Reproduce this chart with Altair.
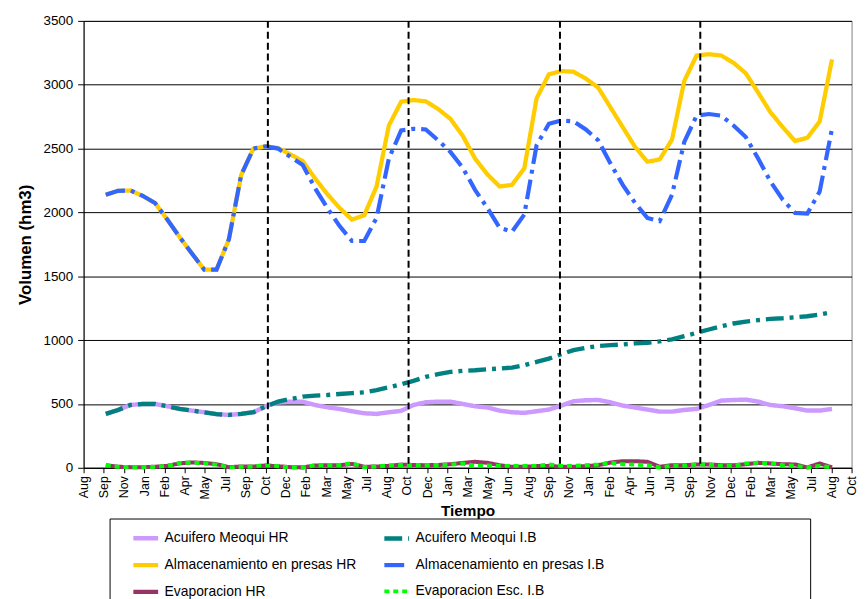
import altair as alt
import pandas as pd

# ---------------- data ----------------
series_names = [
    "Acuifero Meoqui HR",
    "Acuifero Meoqui I.B",
    "Almacenamiento en presas HR",
    "Almacenamiento en presas I.B",
    "Evaporacion HR",
    "Evaporacion Esc. I.B",
]

acu_hr = [422, 453, 492, 500, 500, 482, 461, 448, 435, 420, 414, 422, 435, 482,
          513, 518, 518, 492, 474, 461, 443, 427, 422, 435, 446, 492, 513, 518, 518, 500,
          482, 472, 448, 435, 430, 443, 456, 487, 521, 529, 531, 513, 487, 472, 456,
          440, 440, 453, 461, 492, 526, 531, 534, 518, 492, 482, 466, 448, 448, 461]
acu_ib = [422, 453, 492, 500, 500, 482, 461, 448, 435, 420, 414, 422, 435, 482, 518,
          539, 557, 565, 570, 578, 585, 591, 609, 630, 655, 681, 712, 733, 751, 759,
          764, 772, 777, 785, 803, 829, 855, 889, 922, 940, 953, 961, 966, 974, 979,
          990, 1005, 1031, 1057, 1083, 1109, 1130, 1145, 1156, 1166, 1171, 1179, 1187, 1200, 1218]
alm_hr = [2138, 2169, 2172, 2130, 2074, 1944, 1807, 1678, 1552, 1552, 1789, 2293, 2500,
          2518, 2505, 2454, 2402, 2267, 2143, 2035, 1944, 1978, 2203, 2681, 2867, 2880,
          2870, 2810, 2733, 2600, 2422, 2298, 2203, 2216, 2345, 2893, 3081, 3107, 3102,
          3048, 2978, 2823, 2668, 2513, 2397, 2415, 2570, 3030, 3229, 3239, 3229, 3172,
          3089, 2939, 2784, 2668, 2559, 2585, 2712, 3198]
alm_ib = [2138, 2169, 2172, 2130, 2074, 1944, 1807, 1678, 1552, 1552, 1789, 2293, 2500,
          2518, 2500, 2435, 2371, 2190, 2035, 1893, 1776, 1776, 1957, 2422, 2642, 2655,
          2650, 2565, 2474, 2350, 2177, 2035, 1880, 1849, 1983, 2526, 2694, 2720, 2714,
          2650, 2565, 2384, 2216, 2074, 1957, 1932, 2138, 2552, 2758, 2771, 2758, 2681,
          2590, 2422, 2242, 2099, 1996, 1991, 2164, 2655]
eva_hr = [20, 8, 5, 5, 8, 15, 35, 42, 38, 28, 5, 10, 10, 18, 12, 5, 3, 18, 20, 20,
          30, 8, 10, 15, 25, 22, 20, 22, 28, 38, 47, 39, 20, 8, 8, 13, 15, 8, 8, 13,
          20, 41, 52, 52, 47, 8, 20, 20, 26, 26, 20, 20, 28, 39, 34, 28, 26, 3, 34, 3]
eva_ib = [20, 8, 5, 5, 8, 15, 38, 42, 35, 25, 3, 8, 10, 22, 12, 3, 3, 20, 22, 22,
          35, 5, 10, 18, 22, 22, 20, 22, 25, 33, 15, 18, 15, 15, 15, 15, 26, 15, 15, 20,
          26, 39, 28, 26, 20, 3, 15, 15, 28, 26, 15, 15, 34, 39, 34, 20, 15, 3, 15, 3]

# year separators (month index)
separators = [13.17, 24.6, 36.9, 48.3]

x_labels = ["Aug", "Sep", "Nov", "Jan", "Feb", "Apr", "May", "Jul", "Sep", "Oct",
            "Dec", "Feb", "Mar", "May", "Jul", "Aug", "Oct", "Dec", "Jan", "Mar",
            "May", "Jun", "Aug", "Sep", "Nov", "Jan", "Feb", "Apr", "Jun", "Jul",
            "Sep", "Nov", "Dec", "Feb", "Mar", "May", "Jul", "Aug", "Oct"]
y_ticks = [0, 500, 1000, 1500, 2000, 2500, 3000, 3500]

colors = ["#CC99FF", "#008080", "#FFCC00", "#3366FF", "#993366", "#00FF00"]
dashes = [[1, 0], [18, 6, 4, 6], [1, 0], [20, 6, 4, 6], [1, 0], [5, 4]]
widths = [4.5, 4, 3.5, 3.5, 3, 3]

# ---------------- table ----------------
rows = []
for name, vals in zip(series_names, [acu_hr, acu_ib, alm_hr, alm_ib, eva_hr, eva_ib]):
    for i, v in enumerate(vals):
        rows.append({"mes": i, "valor": v, "serie": name})
df = pd.DataFrame(rows)
sep_df = pd.DataFrame({"mes": separators})

x_min, x_max = -1.8, 60.59
step = (x_max - x_min) / (len(x_labels) - 1)
tick_vals = [x_min + k * step for k in range(len(x_labels))]
label_expr = ("[" + ",".join("'%s'" % l for l in x_labels) + "]"
              + "[round((datum.value - (%f)) / %f)]" % (x_min, step))

FONT = "Liberation Sans, Arial, sans-serif"

x_axis = alt.Axis(values=tick_vals, labelExpr=label_expr, labelAngle=270,
                  title="Tiempo", grid=False, tickSize=5, labelFontSize=12.5,
                  labelPadding=3, titleFontSize=15.5, titleFontWeight="bold",
                  titlePadding=5, labelOverlap=False, labelBound=False,
                  labelFlush=False)
x_scale = alt.Scale(domain=[x_min, x_max], nice=False, zero=False)
x_enc = alt.X("mes:Q", scale=x_scale, axis=x_axis)
y_enc = alt.Y("valor:Q", scale=alt.Scale(domain=[0, 3500], nice=False),
              axis=alt.Axis(values=y_ticks, format="d", title="Volumen (hm3)", grid=True,
                            gridColor="#000000", gridWidth=1, tickSize=6,
                            labelFontSize=13.5, labelPadding=5, titleFontSize=17,
                            titleFontWeight="bold", titlePadding=9))

color_enc = alt.Color("serie:N", title=None,
                      scale=alt.Scale(domain=series_names, range=colors))
dash_enc = alt.StrokeDash("serie:N", title=None,
                          scale=alt.Scale(domain=series_names, range=dashes))
width_enc = alt.StrokeWidth("serie:N", title=None,
                            scale=alt.Scale(domain=series_names, range=widths))

base = alt.Chart(df).mark_line(clip=False).encode(
    x=x_enc, y=y_enc, color=color_enc, strokeDash=dash_enc, strokeWidth=width_enc
)

layers = []
for name in series_names:
    layers.append(base.transform_filter(alt.datum.serie == name))

sep_rules = alt.Chart(sep_df).mark_rule(color="#000000", strokeWidth=2,
                                        strokeDash=[7, 4]).encode(
    x=alt.X("mes:Q", scale=x_scale, axis=x_axis), y=alt.datum(3500), y2=alt.datum(0)
)

legend_box = alt.Chart(pd.DataFrame({"k": [0]})).mark_rect(
    filled=False, stroke="#000000", strokeWidth=1
).encode(
    x=alt.value(26.7), x2=alt.value(733.7), y=alt.value(502.7), y2=alt.value(620)
)

chart = alt.layer(*layers, sep_rules, legend_box).properties(
    width=775, height=451,
    autosize=alt.AutoSizeParams(type="none"),
    padding={"left": 76.3, "top": 10.3, "right": 7.5, "bottom": 130.7},
).configure(
    font=FONT,
).configure_view(
    stroke="#808080", strokeWidth=1
).configure_axis(
    labelFont=FONT, titleFont=FONT, labelColor="#000000", titleColor="#000000",
    domainColor="#000000", tickColor="#000000",
).configure_axisX(
    labelOverlap=False
).configure_legend(
    orient="none", legendX=47.7, legendY=507.2, columns=2, direction="horizontal",
    columnPadding=18.3, rowPadding=3, symbolType="stroke", symbolSize=625,
    labelFont=FONT, labelFontSize=14, labelColor="#000000", labelOffset=4,
    padding=0, labelLimit=400,
)

chart.save("out.html", embed_options={"renderer": "svg", "actions": False})
